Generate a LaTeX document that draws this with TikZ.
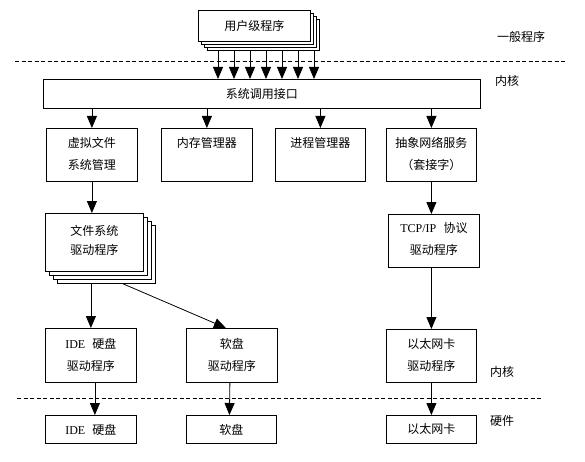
\documentclass[tikz,border=0pt]{standalone}
\usepackage{fontspec}
\setmainfont{Noto Sans CJK SC}
\newfontfamily\lat{Liberation Serif}
\usetikzlibrary{arrows.meta,calc}
\begin{document}
\begin{tikzpicture}[x=1pt,y=-1pt,line width=0.8pt,
  font=\fontsize{12}{22}\selectfont,
  box/.style={draw, fill=white, inner sep=0pt, anchor=north west},
  txt/.style={anchor=north, yshift=-9pt, align=center, inner sep=0pt},
  arr/.style={-{Triangle[length=12pt,width=10pt]}},
  dashline/.style={dash pattern=on 4pt off 2.5pt, line width=0.7pt},
  side/.style={inner sep=0pt}]
\useasboundingbox (0,0) rectangle (585,462);
% dashed separators
\coordinate (d1a) at (15,61); \coordinate (d1b) at (565,61);
\coordinate (d2a) at (17,398); \coordinate (d2b) at (542,398);
\draw[dashline] (d1a) -- (d1b);
\draw[dashline] (d2a) -- (d2b);
% side labels
\node[side] (lgen) at (521,37) {一般程序};
\node[side] (lk1) at (507,81) {内核};
\node[side] (lk2) at (502,372) {内核};
\node[side] (lhw) at (502,421) {硬件};
% user programs stack
\node[box, minimum width=112pt, minimum height=31pt] (ub3) at (207,19) {};
\node[box, minimum width=112pt, minimum height=31pt] (ub2) at (204,16) {};
\node[box, minimum width=112pt, minimum height=31pt] (ub1) at (201,13) {};
\node[box, minimum width=112pt, minimum height=31pt] (user) at (198,10) {用户级程序};
% system call interface
\node[box, minimum width=437pt, minimum height=29pt] (sys) at (43,79) {系统调用接口};
\foreach \dx [count=\i] in {11,27,43,59,75,91,107}{
  \path (ub3.south west) ++(\dx,0) coordinate (t\i);
  \draw[arr] (t\i) -- (t\i |- sys.north);
}
% second row
\node[box, minimum width=91pt, minimum height=53pt, label={[txt]north:{虚拟文件\\系统管理}}] (vfs) at (46,128) {};
\node[box, minimum width=91pt, minimum height=53pt, label={[txt]north:{内存管理器}}] (mem) at (161,128) {};
\node[box, minimum width=90pt, minimum height=53pt, label={[txt]north:{进程管理器}}] (proc) at (275,128) {};
\node[box, minimum width=90pt, minimum height=53pt, label={[txt]north:{抽象网络服务\\（套接字）}}] (net) at (386,128) {};
\foreach \n in {vfs,mem,proc,net}{
  \draw[arr] (sys.south -| \n.north) -- (\n.north);
}
% file system driver stack
\node[box, minimum width=98pt, minimum height=58pt] (fsb) at (57,225) {};
\node[box, minimum width=98pt, minimum height=58pt] (fs2) at (53,221) {};
\node[box, minimum width=98pt, minimum height=58pt] (fs1) at (49,217) {};
\node[box, minimum width=98pt, minimum height=58pt, label={[txt,yshift=-3pt,font=\fontsize{12}{19}\selectfont]north:{文件系统\\驱动程序}}] (fs) at (45,213) {};
\draw[arr] (vfs.south) -- (vfs.south |- fs.north);
% TCP/IP
\node[box, minimum width=91pt, minimum height=53pt, label={[txt,yshift=1pt]north:{{\lat TCP/IP}\hspace{0.6em}协议\\驱动程序}}] (tcp) at (388,214) {};
\draw[arr] (net.south) -- (net.south |- tcp.north);
% drivers row
\node[box, minimum width=91pt, minimum height=54pt, label={[txt,yshift=-1pt]north:{{\lat IDE}\hspace{0.6em}硬盘\\驱动程序}}] (ided) at (45,328) {};
\node[box, minimum width=91pt, minimum height=54pt, label={[txt,yshift=-1pt]north:{软盘\\驱动程序}}] (fdd) at (186,328) {};
\node[box, minimum width=90pt, minimum height=53pt, label={[txt]north:{以太网卡\\驱动程序}}] (ethd) at (386,329) {};
\draw[arr] (ided.north |- fsb.south) -- (ided.north);
\draw[arr] ([xshift=66pt]fsb.south west) -- ([xshift=-6pt]fdd.north);
\draw[arr] (ethd.north |- tcp.south) -- (ethd.north);
% hardware row
\node[box, minimum width=91pt, minimum height=28pt] (ide) at (45,415) {{\lat IDE}\hspace{0.6em}硬盘};
\node[box, minimum width=90pt, minimum height=28pt] (fd) at (186,415) {软盘};
\node[box, minimum width=90pt, minimum height=28pt] (eth) at (386,415) {以太网卡};
\draw[arr] ([xshift=4pt]ided.south) -- ([xshift=4pt]ide.north);
\draw[arr] ([xshift=-2pt]fdd.south) -- ([xshift=-2pt]fd.north);
\draw[arr] (ethd.south) -- (eth.north);
\end{tikzpicture}
\end{document}
